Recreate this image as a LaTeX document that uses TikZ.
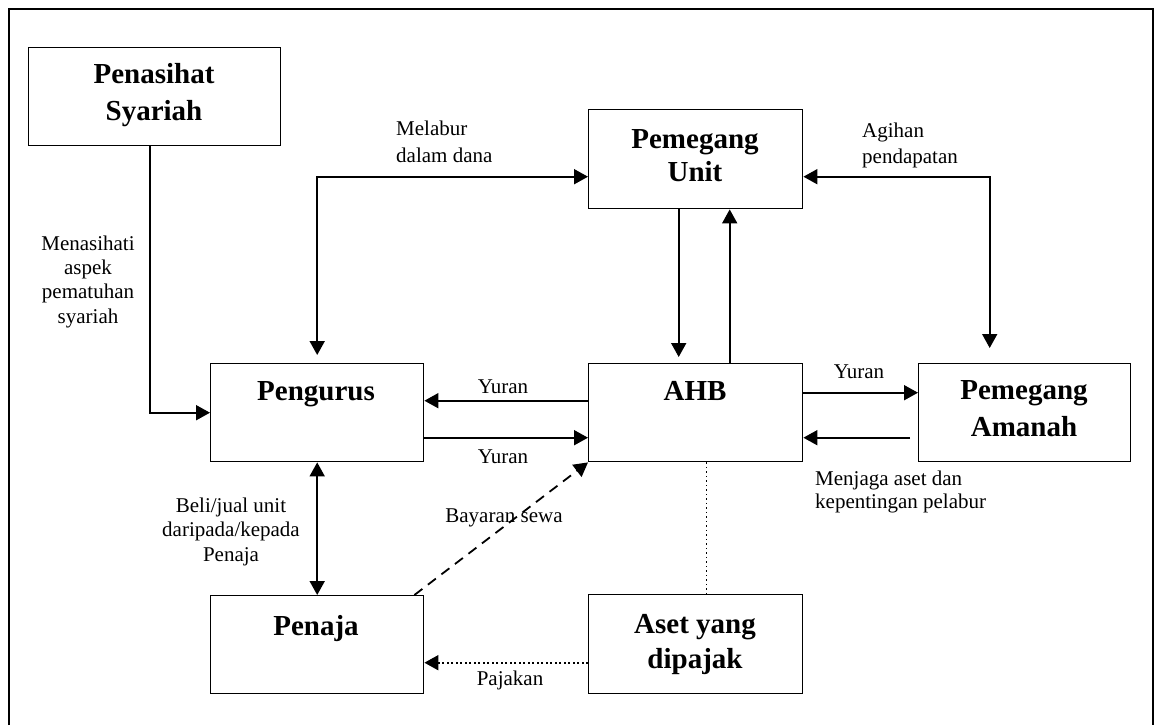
\documentclass[tikz,border=0pt]{standalone}
\usepackage{fontspec}
\setmainfont{Liberation Serif}
\usetikzlibrary{arrows.meta,calc}
\begin{document}
\begin{tikzpicture}[x=1pt,y=-1pt,
  box/.style={draw,line width=1.4pt,minimum width=213pt,minimum height=98pt,inner sep=0pt,anchor=north west},
  ttl/.style={font=\fontsize{29}{36}\selectfont\bfseries,align=center,anchor=base,inner sep=0pt},
  lbl/.style={font=\fontsize{21}{24.5}\selectfont,inner sep=0pt,anchor=base},
  arr/.style={line width=1.8pt,-{Triangle[length=14pt,width=15pt]}},
  biarr/.style={line width=1.8pt,{Triangle[length=14pt,width=15pt]}-{Triangle[length=14pt,width=15pt]}},
]
\useasboundingbox (0,0) rectangle (1155,725);
% outer frame
\draw[line width=1.3pt] (9,725) -- (9,9) -- (1153,9) -- (1153,725);

% boxes
\node[box,minimum width=252pt] (ps) at (28,47) {};
\node[box,minimum width=214pt,minimum height=99pt] (pu) at (588,109) {};
\node[box] (pg) at (210,363) {};
\node[box,minimum width=214pt] (ahb) at (588,363) {};
\node[box,minimum width=212pt] (pa) at (918,363) {};
\node[box] (pn) at (210,595) {};
\node[box,minimum width=214pt,minimum height=99pt] (as) at (588,594) {};

% box titles (multi-line nodes are placed by the baseline of their last line)
\node[ttl,font=\fontsize{29}{37}\selectfont\bfseries] (tps) at (154,120) {Penasihat\\Syariah};
\node[ttl,font=\fontsize{29}{33}\selectfont\bfseries] (tpu) at (695,181) {Pemegang\\Unit};
\node[ttl] (tpg) at (316,400) {Pengurus};
\node[ttl] (tahb) at (695,400) {AHB};
\node[ttl,font=\fontsize{29}{37}\selectfont\bfseries] (tpa) at (1024,436) {Pemegang\\Amanah};
\node[ttl] (tpn) at (316,635) {Penaja};
\node[ttl,font=\fontsize{29}{35}\selectfont\bfseries] (tas) at (695,668) {Aset yang\\dipajak};

% connectors
\draw[arr] ($(ps.south)+(-5,0)$) |- (pg.west);
\draw[biarr] ([yshift=-17.5pt]pu.west) -| ([yshift=8pt]pg.north);
\draw[biarr] ([yshift=-17.5pt]pu.east) -| ([xshift=-35pt,yshift=15pt]pa.north);
\draw[arr] ([xshift=-17pt]pu.south) -- ([xshift=-17pt,yshift=6pt]ahb.north);
\draw[arr] ([xshift=34pt]ahb.north) -- ([xshift=34pt]pu.south);
\draw[arr] ([yshift=20pt]ahb.east) -- ([yshift=20pt]pa.west);
\draw[arr] ([xshift=-8pt,yshift=-25pt]pa.west) -- ([yshift=-25pt]ahb.east);
\draw[arr] ([yshift=12pt]ahb.west) -- ([yshift=12pt]pg.east);
\draw[arr] ([yshift=-25pt]pg.east) -- ([yshift=-25pt]ahb.west);
\draw[biarr] (pg.south) -- (pn.north);
\draw[arr,dash pattern=on 10pt off 7pt] ([xshift=-10pt]pn.north east) -- (ahb.south west);
\draw[line width=1.4pt,dash pattern=on 1.5pt off 3pt] ([xshift=11pt]ahb.south) -- ([xshift=11pt]as.north);
\draw[arr,dash pattern=on 2pt off 2.5pt] ([yshift=-18.5pt]as.west) -- ([yshift=-18pt]pn.east);

% connector labels
\node[lbl,align=center,font=\fontsize{21}{24.3}\selectfont] (lmen) at (88,323) {Menasihati\\aspek\\pematuhan\\syariah};
\node[lbl,align=left,anchor=base west,font=\fontsize{21}{27}\selectfont] (lmel) at (396,162) {Melabur\\dalam dana};
\node[lbl,align=left,anchor=base west,font=\fontsize{21}{26}\selectfont] (lagi) at (862,163) {Agihan\\pendapatan};
\node[lbl] (ly1) at (859,378) {Yuran};
\node[lbl,align=left,anchor=base west,font=\fontsize{21}{23}\selectfont] (lmj) at (815,508) {Menjaga aset dan\\kepentingan pelabur};
\node[lbl] (ly2) at (503,393) {Yuran};
\node[lbl] (ly3) at (503,463) {Yuran};
\node[lbl,align=center] (lbj) at (231,561) {Beli/jual unit\\daripada/kepada\\Penaja};
\node[lbl] (lbs) at (504,522) {Bayaran sewa};
\node[lbl] (lpj) at (510,685) {Pajakan};
\end{tikzpicture}
\end{document}
